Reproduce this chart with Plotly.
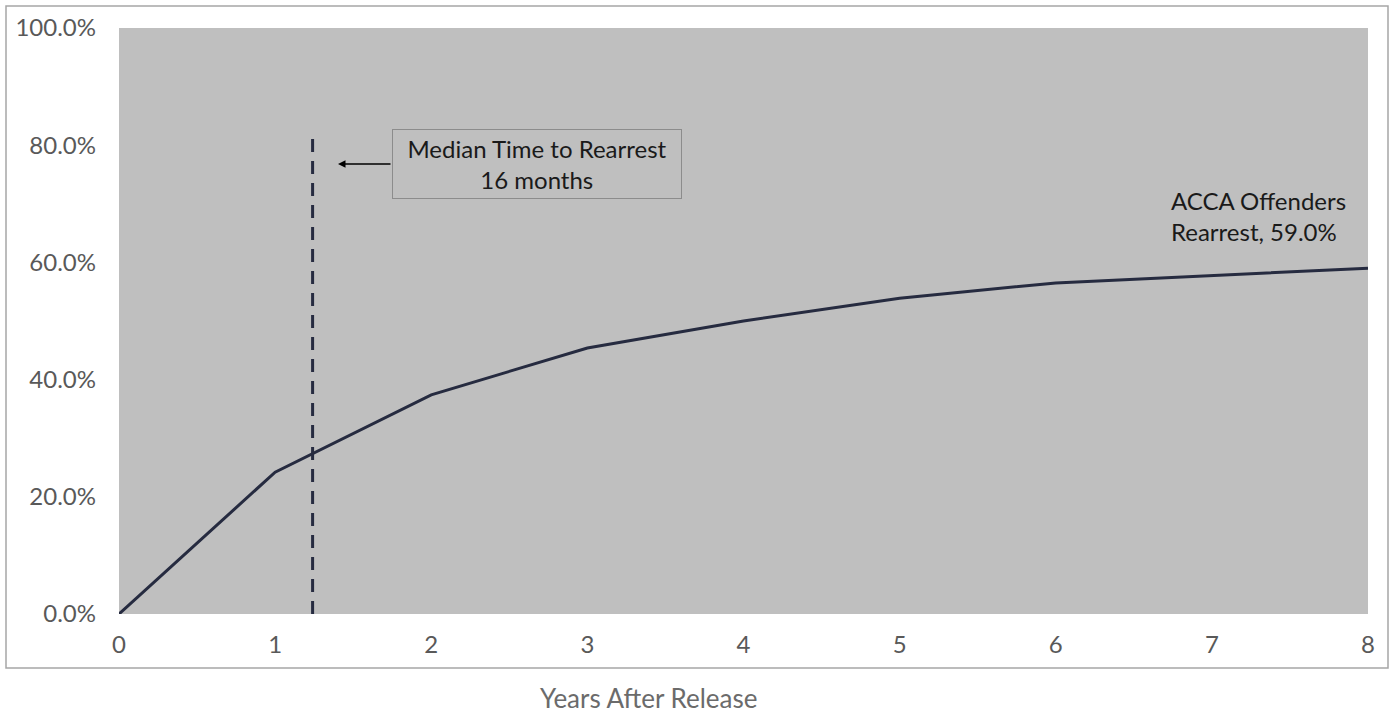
import plotly.graph_objects as go

years = [0, 1, 2, 3, 4, 5, 6, 7, 8]
rearrest_pct = [0.0, 24.2, 37.4, 45.4, 50.0, 53.9, 56.5, 57.8, 59.0]
median_year = 1.24
median_line_top = 82.5
x_ticks = [0, 1, 2, 3, 4, 5, 6, 7, 8]
y_ticks = [0, 20, 40, 60, 80, 100]
y_tick_labels = ["0.0%", "20.0%", "40.0%", "60.0%", "80.0%", "100.0%"]

W, H = 1396, 713
ml, mr, mt, mb = 119, 28, 28, 99
pw = W - ml - mr
ph = H - mt - mb

def px_x(px):
    return (px - ml) / pw

def px_y(py):
    return (H - mb - py) / ph

fig = go.Figure()
fig.add_trace(go.Scatter(
    x=years, y=rearrest_pct, mode="lines",
    line=dict(color="#262B40", width=3),
    hoverinfo="skip", showlegend=False,
))
fig.add_trace(go.Scatter(
    x=[median_year, median_year], y=[0, median_line_top], mode="lines",
    line=dict(color="#262B40", width=3, dash="13px,9px"),
    hoverinfo="skip", showlegend=False,
))

font_family = "Lato, 'Open Sans', sans-serif"

fig.update_layout(
    width=W, height=H,
    margin=dict(l=ml, r=mr, t=mt, b=mb),
    paper_bgcolor="white",
    plot_bgcolor="#BFBFBF",
    font=dict(family=font_family, size=24, color="#595959"),
    xaxis=dict(range=[0, 8], tickvals=x_ticks, showgrid=False, zeroline=False,
               showline=False, ticks="", ticklabelstandoff=14,
               tickfont=dict(size=24, color="#595959")),
    yaxis=dict(range=[0, 100], tickvals=y_ticks, ticktext=y_tick_labels,
               showgrid=False, zeroline=False, showline=False, ticks="",
               ticklabelstandoff=22, tickfont=dict(size=24, color="#595959")),
)

# outer border
fig.add_shape(type="rect", xref="paper", yref="paper",
              x0=px_x(6), x1=px_x(1388), y0=px_y(668), y1=px_y(6),
              line=dict(color="#A6A6A6", width=1.5), fillcolor="rgba(0,0,0,0)",
              layer="below")

# callout box
fig.add_annotation(
    xref="paper", yref="paper", x=px_x(537), y=px_y(164),
    xanchor="center", yanchor="middle",
    text="Median Time to Rearrest<br>16 months", showarrow=False,
    font=dict(family=font_family, size=24, color="#1a1a1a"),
    bordercolor="#8C8C8C", borderwidth=1, bgcolor="#BFBFBF",
    width=286, height=66, align="center",
)
fig.add_annotation(
    xref="paper", yref="paper", axref="pixel", ayref="pixel",
    x=px_x(338), y=px_y(164), ax=54, ay=0,
    text="", showarrow=True, arrowhead=2, arrowsize=1, arrowwidth=1.5,
    arrowcolor="black",
)
fig.add_annotation(
    x=8, y=rearrest_pct[-1], xref="x", yref="y",
    text="ACCA Offenders<br>Rearrest, 59.0%", showarrow=False,
    xanchor="right", yanchor="bottom", xshift=-20, yshift=20, align="left",
    font=dict(family=font_family, size=24, color="#1a1a1a"),
)
fig.add_annotation(
    xref="paper", yref="paper", x=px_x(648), y=px_y(698),
    xanchor="center", yanchor="middle",
    text="Years After Release", showarrow=False,
    font=dict(family=font_family, size=26, color="#6b6b6b"),
)

fig.write_html("out.html", config={"displayModeBar": False},
               post_script="document.body.style.margin='0';document.body.style.overflow='hidden';")
